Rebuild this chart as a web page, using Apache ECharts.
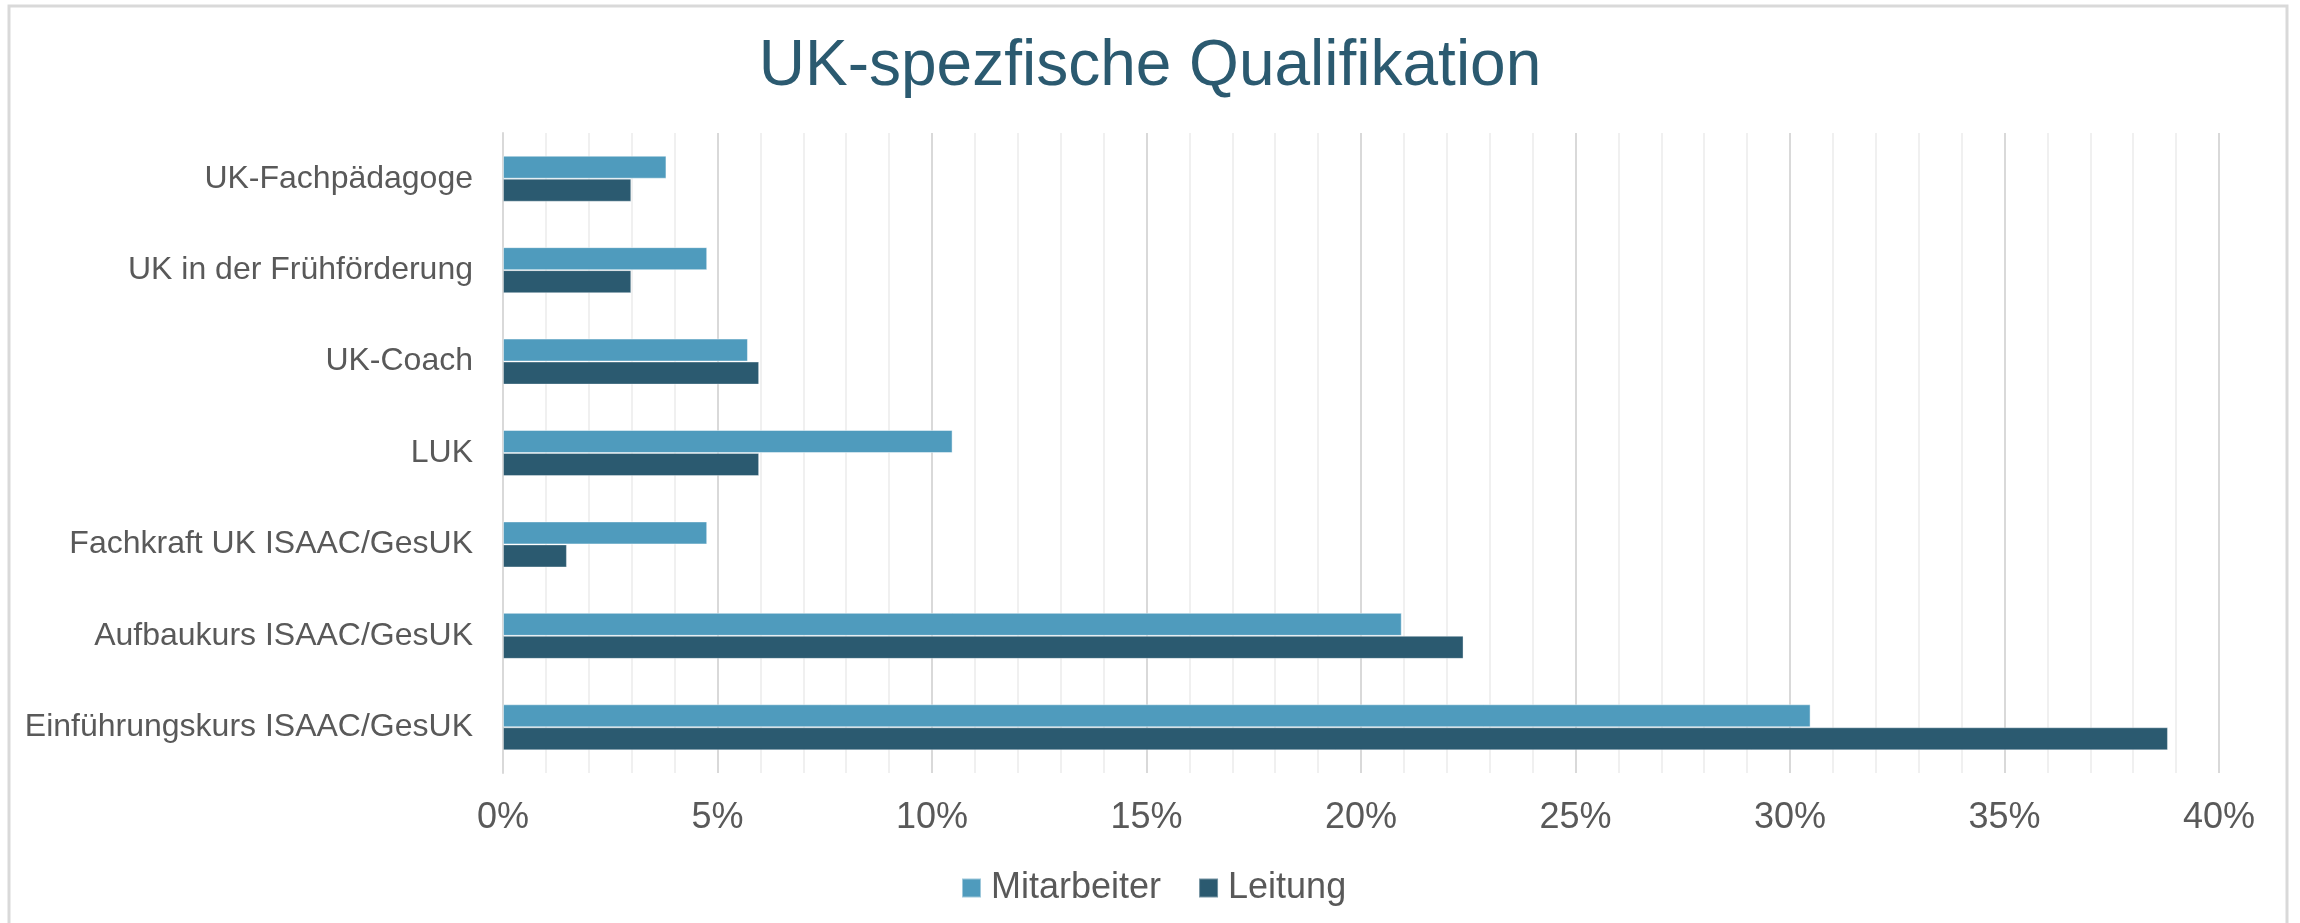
<!DOCTYPE html>
<html>
<head>
<meta charset="utf-8">
<script src="https://cdn.jsdelivr.net/npm/echarts@6/dist/echarts.min.js"></script>
<style>
  html, body { margin: 0; padding: 0; background: #fff; }
  #main { width: 2300px; height: 923px; }
</style>
</head>
<body>
<div id="main"></div>
<script>
// Kategorien von oben nach unten
var categories = [
    'UK-Fachpädagoge',
    'UK in der Frühförderung',
    'UK-Coach',
    'LUK',
    'Fachkraft UK ISAAC/GesUK',
    'Aufbaukurs ISAAC/GesUK',
    'Einführungskurs ISAAC/GesUK'
];
var seriesNames = ['Mitarbeiter', 'Leitung'];
// Anteile in %
var mitarbeiter = [3.81, 4.76, 5.71, 10.48, 4.76, 20.95, 30.48];
var leitung = [2.99, 2.99, 5.97, 5.97, 1.49, 22.39, 38.81];
var xTicks = [0, 5, 10, 15, 20, 25, 30, 35, 40];

var textColor = '#595959';
var font = '"Liberation Sans", Arial, sans-serif';

var myChart = echarts.init(document.getElementById('main'));

var option = {
    backgroundColor: '#fff',
    textStyle: { fontFamily: font },
    animation: false,
    title: {
        text: 'UK-spezfische Qualifikation',
        left: 'center',
        top: 30,
        textStyle: {
            fontFamily: font,
            fontSize: 64,
            fontWeight: 'normal',
            color: '#2B5A70'
        }
    },
    // Rahmen wie im Original
    graphic: [{
        type: 'rect',
        shape: { x: 9, y: 6, width: 2278, height: 1000 },
        style: { fill: 'none', stroke: '#d9d9d9', lineWidth: 3 },
        silent: true
    }],
    legend: {
        data: seriesNames,
        left: 956,
        top: 865,
        icon: 'rect',
        itemWidth: 19,
        itemHeight: 19,
        itemGap: 37,
        textStyle: { fontFamily: font, fontSize: 36, color: textColor, padding: [0, 0, 0, 5] }
    },
    grid: {
        left: 503,
        right: 81,
        top: 133,
        bottom: 150,
        containLabel: false
    },
    xAxis: {
        type: 'value',
        min: xTicks[0],
        max: xTicks[xTicks.length - 1],
        interval: 5,
        axisLine: { show: false },
        axisTick: { show: false },
        axisLabel: {
            formatter: '{value}%',
            fontFamily: font,
            fontSize: 36,
            color: textColor,
            margin: 27
        },
        splitLine: { show: true, lineStyle: { color: '#d9d9d9', width: 2 } },
        minorTick: { show: false, splitNumber: 5 },
        minorSplitLine: { show: true, lineStyle: { color: '#f0f0f0', width: 2 } }
    },
    yAxis: {
        type: 'category',
        data: categories,
        inverse: true,
        axisLine: { show: true, lineStyle: { color: '#d9d9d9', width: 2 } },
        axisTick: { show: false },
        axisLabel: {
            fontFamily: font,
            fontSize: 32,
            color: textColor,
            margin: 30
        }
    },
    series: [{
        name: seriesNames[0],
        type: 'bar',
        data: mitarbeiter,
        barWidth: 23,
        barGap: '0%',
        itemStyle: { color: '#4F9BBD', borderColor: 'rgba(255,255,255,0.45)', borderWidth: 1 }
    }, {
        name: seriesNames[1],
        type: 'bar',
        data: leitung,
        barWidth: 23,
        barGap: '0%',
        itemStyle: { color: '#2B5A70', borderColor: 'rgba(255,255,255,0.35)', borderWidth: 1 }
    }]
};

myChart.setOption(option);
</script>
</body>
</html>
